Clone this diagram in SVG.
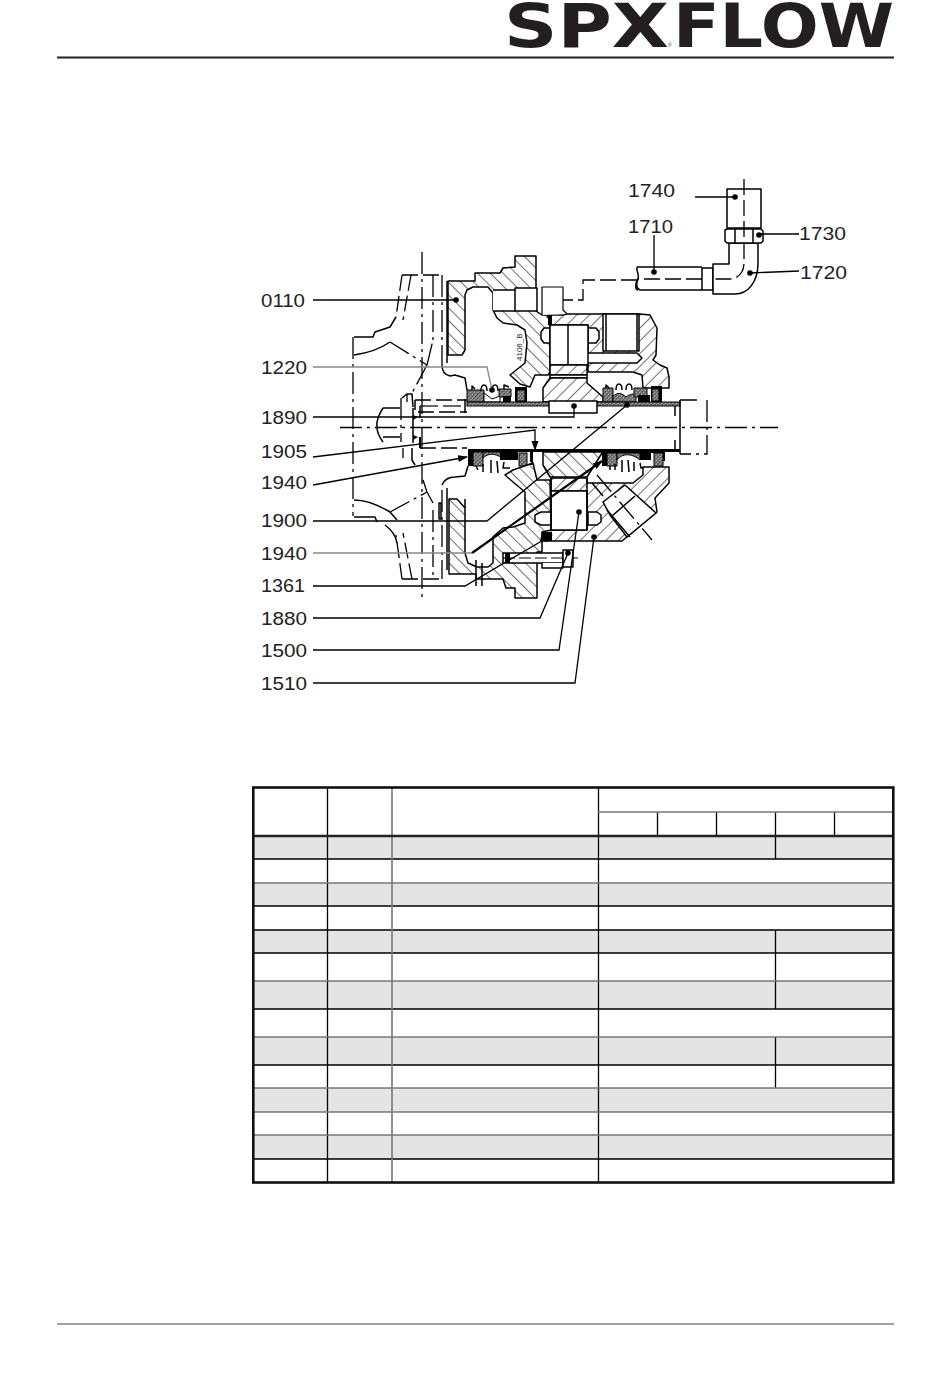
<svg xmlns="http://www.w3.org/2000/svg" width="950" height="1379" viewBox="0 0 950 1379">
<style>
text{font-family:"Liberation Sans",Arial,sans-serif;fill:#222}
.lb text{font-size:18.500px}
.logo{font-family:"DejaVu Sans",sans-serif;font-size:60px;font-weight:700;fill:#231f20}
.l{fill:none;stroke:#000;stroke-width:1.5;stroke-linejoin:round}
.dd{fill:none;stroke:#000;stroke-width:1.3;stroke-dasharray:22 5 3 5}
.d{fill:none;stroke:#000;stroke-width:1.3;stroke-dasharray:16 5}
.w{fill:#fff;stroke:#000;stroke-width:1.5;stroke-linejoin:round}
.hb{fill:url(#hb);stroke:#000;stroke-width:1.5;stroke-linejoin:round}
.hf{fill:url(#hf);stroke:#000;stroke-width:1.5;stroke-linejoin:round}
.x{fill:url(#hx);stroke:#000;stroke-width:1}
.k{fill:#000}
.ld{fill:none;stroke:#000;stroke-width:1.3}
.g{fill:none;stroke:#888;stroke-width:1.3}
.th{fill:none;stroke:#000;stroke-width:2.2}
.r{fill:#e4e4e4}
.c{stroke:#000;stroke-width:1.3;fill:none}
.c2{stroke:#777;stroke-width:1.600;fill:none}
</style>
<defs>
<pattern id="hb" width="9" height="9" patternUnits="userSpaceOnUse" patternTransform="rotate(-45)"><rect width="9" height="9" fill="#fff"/><line x1="0" y1="0" x2="0" y2="9" stroke="#333" stroke-width="1.4"/></pattern>
<pattern id="hf" width="9" height="9" patternUnits="userSpaceOnUse" patternTransform="rotate(45)"><rect width="9" height="9" fill="#fff"/><line x1="0" y1="0" x2="0" y2="9" stroke="#333" stroke-width="1.4"/></pattern>
<pattern id="hx" width="2.600" height="2.600" patternUnits="userSpaceOnUse" patternTransform="rotate(45)"><rect width="2.600" height="2.600" fill="#bbb"/><rect width="1.200" height="2.600" fill="#444"/><rect width="2.600" height="1" fill="#666"/></pattern>
<marker id="a" markerWidth="10" markerHeight="8" refX="9" refY="4" orient="auto" markerUnits="userSpaceOnUse"><path d="M0 0.500L10 4L0 7.500Z" fill="#000"/></marker>
</defs>

<g id="header">
<text class="logo" x="504" y="47" textLength="165" lengthAdjust="spacingAndGlyphs">SPX</text>
<text class="logo" x="673" y="47" textLength="221" lengthAdjust="spacingAndGlyphs">FLOW</text>
<text x="668" y="47" font-size="5" style="fill:#444">®</text>
<line x1="57" y1="57.500" x2="894" y2="57.500" stroke="#222" stroke-width="2"/>
</g>

<g id="drawing">
<!-- casing upper -->
<path class="hb" d="M448 281H475V273H500L503 268L515 267V256H536V311L542 315H548L550 325V372L548 375H535L530 387L520 384L510 375L525 363L527 343L525 330L517 325L503 323L497 318L493 310V293L488 287H473L467 290L465 295V350L462 355H448Z"/>
<rect x="493" y="290" width="22" height="21" fill="#fff"/>
<path class="l" d="M493 290H515M493 311H515"/>
<rect class="w" x="515" y="288" width="22" height="23"/>
<path class="hf" d="M548 315H563L567 314H640L650 315L657 328L656 355L653 360L660 365L667 368L669 377V388H643L642 375L633 372H588V363H637L642 358L637 353H588V325H550Z"/>
<path class="w" d="M603 314V351H639V314Z"/>
<path class="l" d="M606 314V351M637 314V351"/>
<path class="w" d="M588 328H596L599 332V339L596 343H588Z"/>
<path class="w" d="M550 328H544L541 332V339L544 343H550Z"/>
<path class="w" d="M550 325H588V365H550Z"/><line class="l" x1="568" y1="325" x2="568" y2="365"/>
<path class="hf" d="M550 365H587V375H550Z"/>
<path class="w" d="M550 375H587V378H550Z"/>
<rect class="k" x="548" y="315" width="4" height="10"/>
<!-- hub upper -->
<path class="hf" d="M550 378H587V383L603 397V402H543V388Z"/>
<!-- seals upper -->
<path class="x" d="M467 390H484V402H467Z"/>
<path class="w" d="M484 393L492 399L500 396V402H484Z" style="stroke-width:1"/>
<path class="x" d="M499 389H511V397H499Z"/>
<rect class="k" x="503" y="396" width="8" height="6"/>
<rect class="k" x="515" y="387" width="12" height="15"/>
<rect class="x" x="517" y="390" width="8" height="11"/>
<path class="x" d="M603 388H613V402H603Z"/>
<path class="x" d="M613 396C618 392 622 393 626 397C630 394 634 393 636 396V402H613Z" style="stroke-width:1"/>
<path class="x" d="M634 388H647V397H634Z"/>
<rect class="k" x="638" y="395" width="12" height="7"/>
<rect class="k" x="651" y="386" width="11" height="16"/>
<rect class="x" x="652" y="389" width="7" height="12"/>
<path class="l" d="M472 390V386L475 389M481 391C481 383 487 383 487 391M492 391C492 383 498 383 498 391M504 389V385L509 387"/>
<path class="l" d="M606 388V385L609 388M616 390C616 382 622 382 622 390M626 390C626 382 632 382 632 390"/>
<!-- sleeve -->
<rect class="x" x="467" y="402" width="213" height="4"/>
<path class="w" d="M549 401H597V413H549Z"/>
<!-- shaft end -->
<path class="l" d="M680 400H697M680 400V454M675 406V416M675 440V449"/>
<path class="dd" d="M707 400V454H680"/>
<line class="dd" x1="340" y1="427.500" x2="778" y2="427.500"/>
<!-- shaft left -->
<path class="d" d="M415 400H467M418 412H467M420 448H467"/>
<line x1="420" y1="406" x2="463" y2="406" stroke="#666" stroke-width="1.800" stroke-dasharray="18 5"/>
<path class="l" d="M465 399V413M415 400V410M420 406V418"/>
<path d="M420 437V448" stroke="#000" stroke-width="2"/>
<path class="l" d="M383 408H400M383 437H400M383 408C378 416 376 422 377 427C377 433 380 438 383 442M413 408V443"/>
<path class="dd" d="M401 398V442M403 448V458M407 394V402"/>
<path class="l" d="M402 398L407 394H412L413 407M412 448V460L415 465"/>
<path class="k" d="M413 415L418 417L413 420ZM413 435L418 437L413 440Z"/>
<!-- seals lower -->
<rect class="k" x="468" y="449" width="212" height="3"/>
<rect class="k" x="468" y="451" width="5" height="15"/>
<path class="x" d="M473 452H483V466H473Z"/>
<path class="x" d="M483 458C488 453 495 453 502 458V452H483Z" style="stroke-width:1"/>
<rect class="k" x="500" y="452" width="18" height="8"/>
<rect class="x" x="519" y="453" width="8" height="13"/>
<rect class="k" x="530" y="451" width="3" height="11"/>
<path class="l" d="M476 466L478 470M483 464V472M491 460L491 473M497 461L498 473M504 462L503 468H510M533 462L524 470"/>
<rect class="k" x="602" y="450" width="63" height="3"/>
<rect class="k" x="602" y="452" width="5" height="14"/>
<path class="x" d="M607 453H617V466H607Z"/>
<path class="x" d="M617 460C622 453 632 453 640 460V453H617Z" style="stroke-width:1"/>
<rect class="k" x="640" y="452" width="11" height="8"/>
<rect class="x" x="654" y="453" width="9" height="13"/>
<rect class="k" x="663" y="452" width="2" height="9"/>
<path class="l" d="M610 466V470M615 464V470M622 460L622 472M628 460L629 472M634 462V471M640 463L641 468H650"/>
<!-- hub lower -->
<path class="hb" d="M543 452H602V453L587 477H550L543 465Z"/>
<!-- casing lower left -->
<path class="hb" d="M449 499H457L465 508V553L468 563L477 567H488L493 563V537L495 535L503 528L513 527L525 523V492L513 482L505 475L513 470L533 463L537 480H550L551 530L552 532L542 541V552H537V598H515V588H506L503 579H476V574H449Z"/>
<path class="l" d="M476 560V586M482 563V586M465 499V508"/>
<!-- casing lower right -->
<path class="hf" d="M551 478H587V483H633L643 475V467H669V483L655 498L657 512L622 541H542V532L551 530H587V491H551Z"/>
<rect class="w" x="551" y="491" width="36" height="39"/>
<path class="w" d="M551 512H541L535 515V522L541 525H551Z"/>
<path class="w" d="M588 512H597L601 515V522L597 525H588Z"/>
<path class="l" d="M551 478V530M587 478V530"/>
<!-- port plug -->
<path class="w" d="M603 502L625 485L656 513L627 537L610 515Z"/>
<path class="l" d="M612 516L635 496M607 510L630 537M592 483L603 496"/>
<line class="dd" x1="597" y1="475" x2="652" y2="540"/>
<!-- bolt -->
<path class="w" d="M503 553H563V563H503Z"/>
<line x1="503" y1="558" x2="578" y2="558" stroke="#000" stroke-width="1.200" stroke-dasharray="12 4"/>
<path class="w" d="M542 563V568H563V563"/>
<path class="w" d="M563 550H573V567H563Z"/>
<rect class="k" x="505" y="553" width="5" height="10"/>
<path class="k" d="M542 532H552V541H540Z"/>
<text x="522" y="361" font-size="8" transform="rotate(-90 522 361)">4106_B</text>

<!-- impeller -->
<g>
<line class="dd" x1="422" y1="252" x2="422" y2="600"/>
<path class="d" d="M402 275H442M402 579H442"/>
<path class="dd" d="M442 275V365M442 490V579M433 275V345M433 510V579"/>
<path class="l" d="M447 281V363M447 488V570"/>
<path class="d" d="M402 275L396 317M411 275L403 320M402 579L396 535M412 579L403 533"/>
<path class="l" d="M396 317L390 327L375 332L373 337H354M354 355C368 353 380 349 390 342"/>
<path class="dd" d="M353 337V516"/>
<path class="dd" d="M390 342L427 365M427 365L433 340M427 365L412 393"/>
<path class="l" d="M354 500C365 500 375 503 390 512L397 520M354 517H375L377 522M385 525C392 530 396 537 397 543"/>
<path class="dd" d="M390 512L427 492M427 492L423 480M433 503L427 492"/>
<path class="l" d="M442 365C442 372 445 375 450 376L455 375L465 378L467 390M442 485C445 478 450 477 455 477L465 476L468 466"/>
<rect class="w" x="439" y="503" width="2" height="16"/>
</g>

<!-- top pipe -->
<g id="pipe">
<path class="l" d="M637 267H702M640 290H702M637 267C636 272 640 275 638 279C636 284 636 288 640 290M638 279C635 283 635 290 638 290"/>
<rect class="l" x="702" y="268" width="11" height="22"/>
<path class="w" d="M713 264H729V243H758V263C758 282 748 294 735 294H713Z"/>
<rect class="w" x="727" y="189" width="34" height="39"/>
<path class="w" d="M725 230L727 229H761L763 231V241L761 243H727L725 241Z"/>
<path class="l" d="M735 229V243M753 229V243"/>
<path class="d" d="M744 179V243M744 243V263C744 272 738 279 730 279H713M702 279H637"/>
<path class="d" d="M637 280H583V300H545"/>
<path class="w" d="M542 315V287H563V310L567 314" style="stroke-width:1.200"/>
</g>
</g>

<g id="connectors">
<path class="ld" d="M313 300H456"/>
<path class="g" d="M313 367H487L492 390"/>
<path class="ld" d="M313 417H574V406"/>
<path class="ld" d="M313 457L535 430V450" marker-end="url(#a)"/>
<path class="ld" d="M313 485L467 457" marker-end="url(#a)"/>
<path class="ld" d="M313 521H487L627 405"/>
<path class="g" d="M313 553H472"/>
<path class="th" d="M472 553L602 461" marker-end="url(#a)"/>
<path class="ld" d="M313 586H465L552 535" marker-end="url(#a)"/>
<path class="ld" d="M313 618H540L568 553"/>
<path class="ld" d="M313 650H559L579 512"/>
<path class="ld" d="M313 683H575L594 537"/>
<path class="ld" d="M654 235V272M695 197H735M799 234H759M799 271L750 273"/>
<g class="k"><circle cx="456" cy="300" r="2.800"/><circle cx="492" cy="390" r="2.800"/><circle cx="574" cy="406" r="2.800"/><circle cx="627" cy="405" r="2.800"/><circle cx="579" cy="512" r="2.800"/><circle cx="594" cy="537" r="2.800"/><circle cx="568" cy="553" r="2.800"/><circle cx="654" cy="272" r="2.800"/><circle cx="735" cy="197" r="2.800"/><circle cx="759" cy="235" r="2.800"/><circle cx="750" cy="273" r="2.800"/></g>
</g>

<g id="labels" class="lb">
<text x="261" y="307" textLength="44" lengthAdjust="spacingAndGlyphs">0110</text>
<text x="261" y="374" textLength="46" lengthAdjust="spacingAndGlyphs">1220</text>
<text x="261" y="424" textLength="46" lengthAdjust="spacingAndGlyphs">1890</text>
<text x="261" y="458" textLength="46" lengthAdjust="spacingAndGlyphs">1905</text>
<text x="261" y="489" textLength="46" lengthAdjust="spacingAndGlyphs">1940</text>
<text x="261" y="527" textLength="46" lengthAdjust="spacingAndGlyphs">1900</text>
<text x="261" y="560" textLength="46" lengthAdjust="spacingAndGlyphs">1940</text>
<text x="261" y="592" textLength="44" lengthAdjust="spacingAndGlyphs">1361</text>
<text x="261" y="625" textLength="46" lengthAdjust="spacingAndGlyphs">1880</text>
<text x="261" y="657" textLength="46" lengthAdjust="spacingAndGlyphs">1500</text>
<text x="261" y="690" textLength="46" lengthAdjust="spacingAndGlyphs">1510</text>
<text x="628" y="197" textLength="47" lengthAdjust="spacingAndGlyphs">1740</text>
<text x="628" y="233" textLength="45" lengthAdjust="spacingAndGlyphs">1710</text>
<text x="799" y="240" textLength="47" lengthAdjust="spacingAndGlyphs">1730</text>
<text x="800" y="279" textLength="47" lengthAdjust="spacingAndGlyphs">1720</text>
</g>

<g id="table">
<rect class="r" x="254" y="836" width="639" height="23"/>
<rect class="r" x="254" y="883" width="639" height="23"/>
<rect class="r" x="254" y="930" width="639" height="23"/>
<rect class="r" x="254" y="981" width="639" height="28"/>
<rect class="r" x="254" y="1037" width="639" height="28"/>
<rect class="r" x="254" y="1088" width="639" height="24"/>
<rect class="r" x="254" y="1135" width="639" height="24"/>
<path class="c" d="M254 859H893M254 906H893M254 953H893M254 1009H893M254 1065H893M254 1159H893M254 930H893"/>
<path class="c" d="M327.500 787V1182M598.500 787V1182M657.500 812V836M716.500 812V836M834.500 812V836M775.500 812V859M775.500 930V1009M775.500 1037V1088"/>
<path class="c2" d="M392 787V1182M598 812H893M254 883H893M254 981H893M254 1037H893M254 1088H893M254 1112H893M254 1135H893"/>
<path d="M254 836H893" stroke="#222" stroke-width="2.400"/>
<rect x="253.300" y="787.500" width="640" height="395" fill="none" stroke="#111" stroke-width="2.600"/>
</g>

<line id="footer" x1="57" y1="1324" x2="894" y2="1324" stroke="#444" stroke-width="1.200"/>
</svg>
